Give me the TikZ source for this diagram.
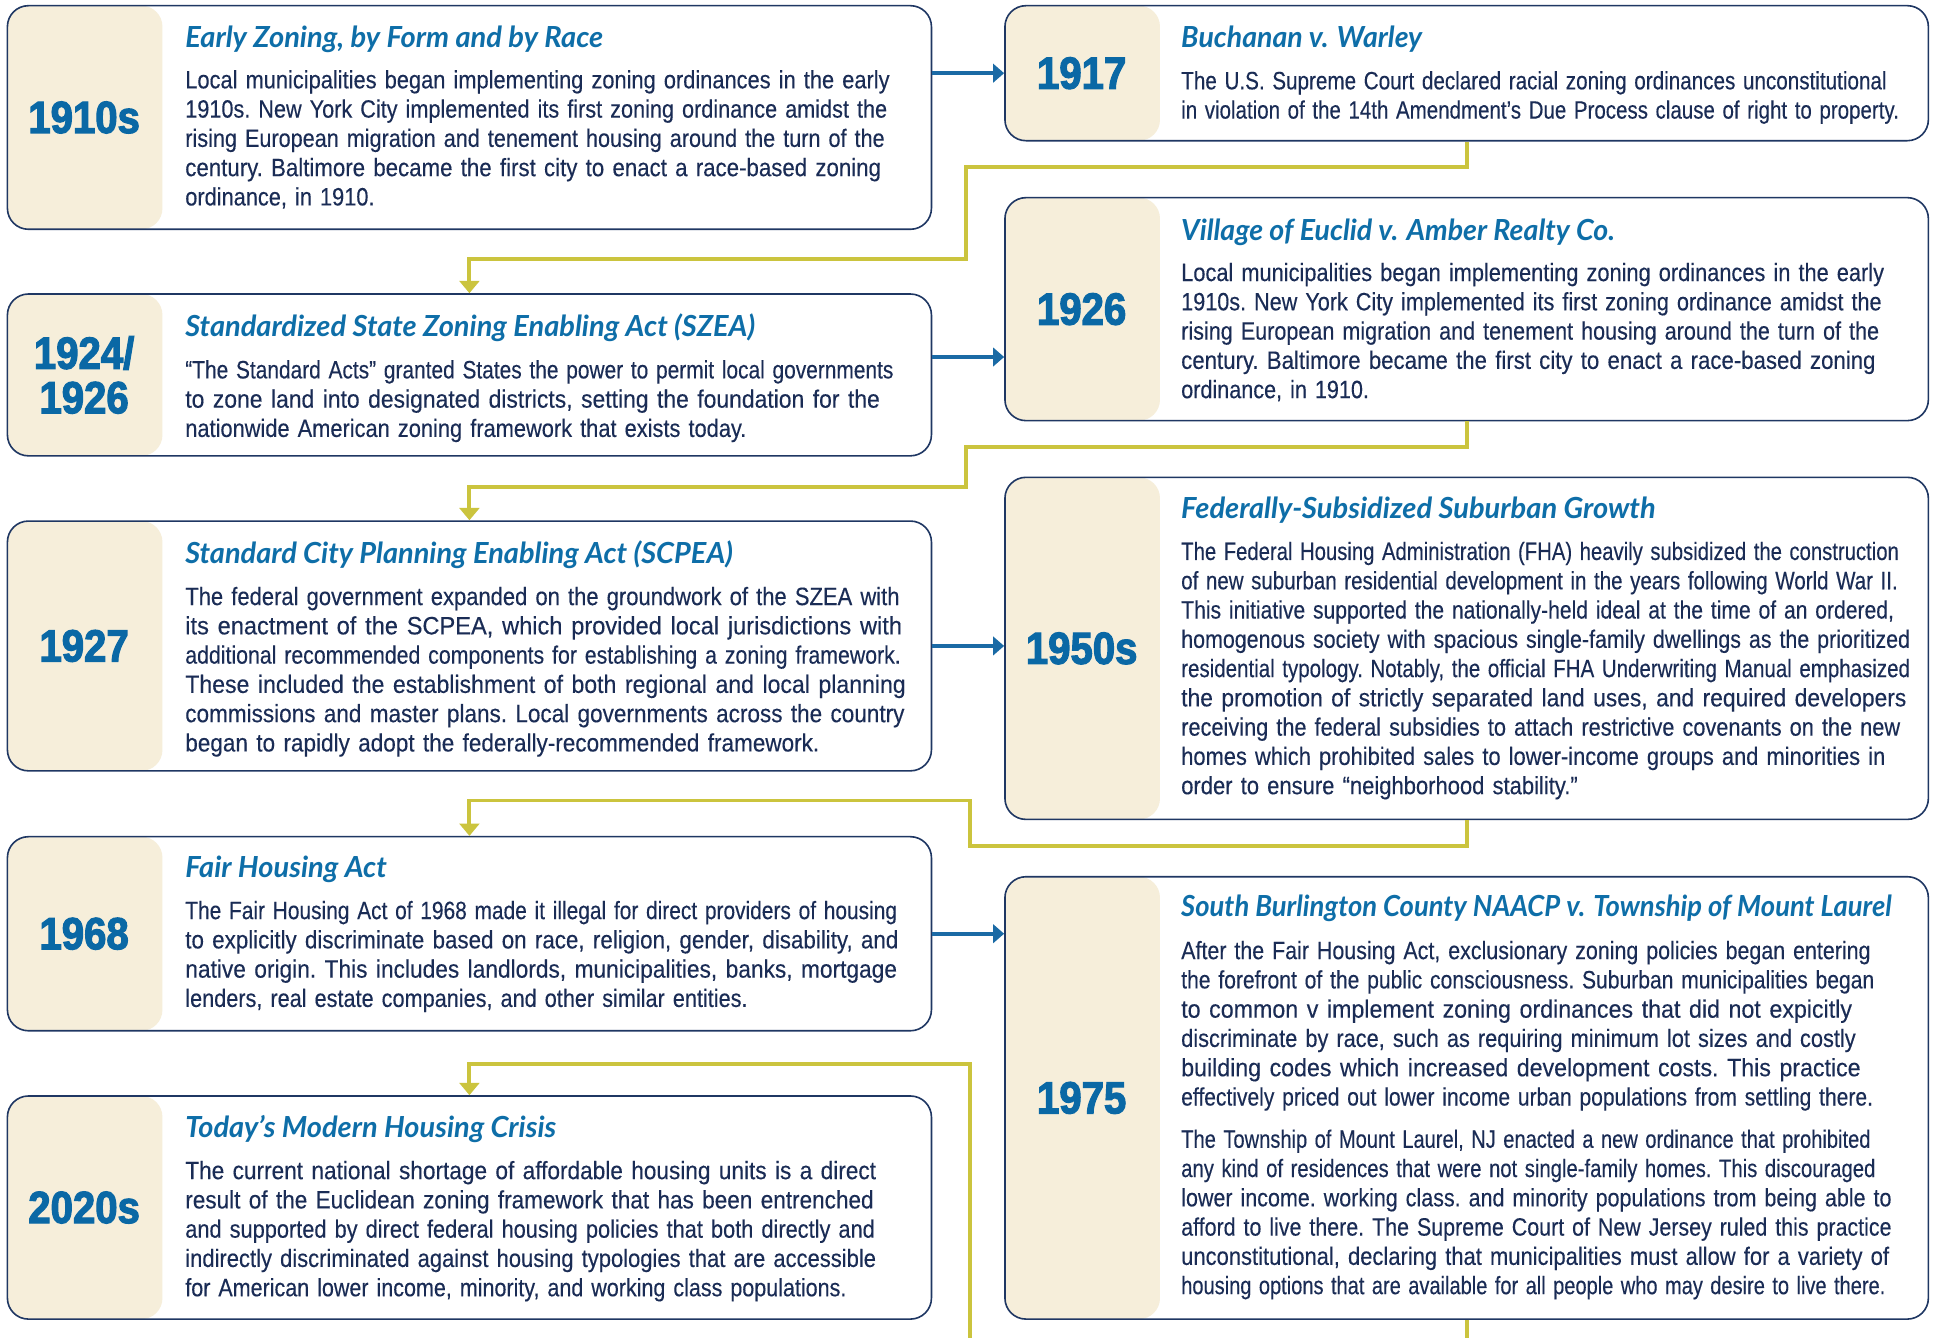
\documentclass[tikz,border=0pt]{standalone}
\usepackage{fontspec}
\usepackage{graphicx}
\setmainfont{Liberation Sans}
\newfontfamily\bodyf{Liberation Sans}[FakeStretch=0.9,FakeBold=0.25]
\newfontfamily\titlef{Lato}
\newfontfamily\yearf{Liberation Sans Bold}[FakeStretch=0.89,FakeBold=2.6]
\usetikzlibrary{arrows.meta,calc}
\definecolor{navy}{HTML}{1F3763}
\definecolor{bodyc}{HTML}{1A2C55}
\definecolor{titlec}{HTML}{0E6EA8}
\definecolor{yearc}{HTML}{0A68A5}
\definecolor{beige}{HTML}{F6EEDA}
\definecolor{yel}{HTML}{CBC43E}
\definecolor{blu}{HTML}{1A6AA5}
\newcommand\fl[2]{\resizebox{#1pt}{\height}{#2}}
\tikzset{
  tbox/.style={draw=navy, line width=1.3pt, rounded corners=17pt, fill=white, inner sep=0pt,
    path picture={\fill[beige] (path picture bounding box.north west) rectangle ([xshift=125.5pt]path picture bounding box.south west);}},
  yeartxt/.style={font=\yearf\fontsize{36.5}{36}\selectfont, text=yearc, inner sep=0pt, align=center},
  ttl/.style={font=\titlef\bfseries\itshape\fontsize{23.5}{26}\selectfont, text=titlec, inner sep=0pt, anchor=base west},
  body/.style={font=\bodyf\frenchspacing\fontsize{20.3}{23.7}\selectfont, text=bodyc, inner sep=0pt, anchor=base west, text width=640pt, align=left},
  barrow/.style={draw=blu, line width=3pt, -{Triangle[width=15pt,length=9pt]}},
  yline/.style={draw=yel, line width=3.2pt},
  yarrow/.style={yline, -{Triangle[width=16pt,length=10pt]}}
}
\begin{document}
\begin{tikzpicture}[x=1pt,y=-1pt]
\useasboundingbox[fill=white] (0,0) rectangle (1568,1083);
% left column boxes
\node[tbox, minimum width=748pt, minimum height=181pt] (A) at (380,95.1) {};
\node[tbox, minimum width=748pt, minimum height=131pt] (B) at (380,303.5) {};
\node[tbox, minimum width=748pt, minimum height=202.2pt] (C) at (380,522.9) {};
\node[tbox, minimum width=748pt, minimum height=157.1pt] (D) at (380,755.85) {};
\node[tbox, minimum width=748pt, minimum height=180.6pt] (E) at (380,977.5) {};
% right column boxes
\node[tbox, minimum width=747.5pt, minimum height=109.3pt] (R1) at (1187.25,59.25) {};
\node[tbox, minimum width=747.5pt, minimum height=180.5pt] (R2) at (1187.25,250.25) {};
\node[tbox, minimum width=747.5pt, minimum height=276.9pt] (R3) at (1187.25,524.85) {};
\node[tbox, minimum width=747.5pt, minimum height=358.1pt] (R4) at (1187.25,888.75) {};

% years
\node[yeartxt] (yA) at ([xshift=62.75pt]A.west) {1910s};
\node[yeartxt] (yB) at ([xshift=62.75pt]B.west) {1924/\\1926};
\node[yeartxt] (yC) at ([xshift=62.75pt]C.west) {1927};
\node[yeartxt] (yD) at ([xshift=62.75pt]D.west) {1968};
\node[yeartxt] (yE) at ([xshift=62.75pt]E.west) {2020s};
\node[yeartxt] (yR1) at ([xshift=62.75pt]R1.west) {1917};
\node[yeartxt] (yR2) at ([xshift=62.75pt]R2.west) {1926};
\node[yeartxt] (yR3) at ([xshift=62.75pt]R3.west) {1950s};
\node[yeartxt] (yR4) at ([xshift=62.75pt]R4.west) {1975};

% titles
\node[ttl] (tA) at (149.8,38.3) {\fl{338.2}{Early Zoning, by Form and by Race}};
\node[ttl] (tB) at (149.8,272) {\fl{461.2}{Standardized State Zoning Enabling Act (SZEA)}};
\node[ttl] (tC) at (149.8,456) {\fl{443.2}{Standard City Planning Enabling Act (SCPEA)}};
\node[ttl] (tD) at (149.8,710) {\fl{163.2}{Fair Housing Act}};
\node[ttl] (tE) at (149.8,920.6) {\fl{300.2}{Today’s Modern Housing Crisis}};
\node[ttl] (tR1) at (956,38.3) {\fl{195}{Buchanan v. Warley}};
\node[ttl] (tR2) at (956,194.3) {\fl{351}{Village of Euclid v. Amber Realty Co.}};
\node[ttl] (tR3) at (956,419.6) {\fl{384}{Federally-Subsidized Suburban Growth}};
\node[ttl] (tR4) at (956,742) {\fl{575}{South Burlington County NAACP v. Township of Mount Laurel}};

% bodies
\node[body] (bA) at (149.8,71.5) {\fl{570.2}{Local municipalities began implementing zoning ordinances in the early}\\
\fl{568.2}{1910s. New York City implemented its first zoning ordinance amidst the}\\
\fl{566.2}{rising European migration and tenement housing around the turn of the}\\
\fl{563.2}{century. Baltimore became the first city to enact a race-based zoning}\\
\fl{153.2}{ordinance, in 1910.}};
\node[body] (bB) at (149.8,306.3) {\fl{573.2}{“The Standard Acts” granted States the power to permit local governments}\\
\fl{562.2}{to zone land into designated districts, setting the foundation for the}\\
\fl{454.2}{nationwide American zoning framework that exists today.}};
\node[body] (bC) at (149.8,489.8) {\fl{578.2}{The federal government expanded on the groundwork of the SZEA with}\\
\fl{580.2}{its enactment of the SCPEA, which provided local jurisdictions with}\\
\fl{579.2}{additional recommended components for establishing a zoning framework.}\\
\fl{583.2}{These included the establishment of both regional and local planning}\\
\fl{582.2}{commissions and master plans. Local governments across the country}\\
\fl{513.2}{began to rapidly adopt the federally-recommended framework.}};
\node[body] (bD) at (149.8,744) {\fl{576.2}{The Fair Housing Act of 1968 made it illegal for direct providers of housing}\\
\fl{577.2}{to explicitly discriminate based on race, religion, gender, disability, and}\\
\fl{576.2}{native origin. This includes landlords, municipalities, banks, mortgage}\\
\fl{455.2}{lenders, real estate companies, and other similar entities.}};
\node[body] (bE) at (149.8,954.5) {\fl{559.2}{The current national shortage of affordable housing units is a direct}\\
\fl{557.2}{result of the Euclidean zoning framework that has been entrenched}\\
\fl{558.2}{and supported by direct federal housing policies that both directly and}\\
\fl{559.2}{indirectly discriminated against housing typologies that are accessible}\\
\fl{535.2}{for American lower income, minority, and working class populations.}};
\node[body] (bR1) at (956,72.3) {\fl{571}{The U.S. Supreme Court declared racial zoning ordinances unconstitutional}\\
\fl{581}{in violation of the 14th Amendment’s Due Process clause of right to property.}};
\node[body] (bR2) at (956,227.5) {\fl{569}{Local municipalities began implementing zoning ordinances in the early}\\
\fl{567}{1910s. New York City implemented its first zoning ordinance amidst the}\\
\fl{565}{rising European migration and tenement housing around the turn of the}\\
\fl{562}{century. Baltimore became the first city to enact a race-based zoning}\\
\fl{152}{ordinance, in 1910.}};
\node[body] (bR3) at (956,453.3) {\fl{581}{The Federal Housing Administration (FHA) heavily subsidized the construction}\\
\fl{580}{of new suburban residential development in the years following World War II.}\\
\fl{577}{This initiative supported the nationally-held ideal at the time of an ordered,}\\
\fl{590}{homogenous society with spacious single-family dwellings as the prioritized}\\
\fl{590}{residential typology. Notably, the official FHA Underwriting Manual emphasized}\\
\fl{587}{the promotion of strictly separated land uses, and required developers}\\
\fl{582}{receiving the federal subsidies to attach restrictive covenants on the new}\\
\fl{570}{homes which prohibited sales to lower-income groups and minorities in}\\
\fl{321}{order to ensure “neighborhood stability.”}};
\node[body] (bR4) at (956,776.4) {\fl{558}{After the Fair Housing Act, exclusionary zoning policies began entering}\\
\fl{561}{the forefront of the public consciousness. Suburban municipalities began}\\
\fl{543}{to common v implement zoning ordinances that did not expicitly}\\
\fl{546}{discriminate by race, such as requiring minimum lot sizes and costly}\\
\fl{550}{building codes which increased development costs. This practice}\\
\fl{560}{effectively priced out lower income urban populations from settling there.}\\[10.5pt]
\fl{558}{The Township of Mount Laurel, NJ enacted a new ordinance that prohibited}\\
\fl{562}{any kind of residences that were not single-family homes. This discouraged}\\
\fl{575}{lower income. working class. and minority populations trom being able to}\\
\fl{575}{afford to live there. The Supreme Court of New Jersey ruled this practice}\\
\fl{573}{unconstitutional, declaring that municipalities must allow for a variety of}\\
\fl{570}{housing options that are available for all people who may desire to live there.}};

% blue arrows
\draw[barrow] (R1.west -| A.east) -- (R1.west);
\coordinate (b2) at ([yshift=14.5pt]B.east);
\draw[barrow] (b2) -- (b2 -| R2.west);
\draw[barrow] (C.east) -- (C.east -| R3.west);
\draw[barrow] (D.east) -- (D.east -| R4.west);

% yellow connectors
\draw[yarrow] (R1.south) -- (R1.south |- 0,135) -| (782,210) -| (B.north);
\draw[yarrow] (R2.south) -- (R2.south |- 0,361.6) -| (782,394) -| (C.north);
\draw[yarrow] (R3.south) -- (R3.south |- 0,685) -| (785.3,648) -| (D.north);
\coordinate (bot1) at (1187.25,1095);
\coordinate (bot2) at (785.3,1095);
\draw[yline] (R4.south) -- (bot1);
\draw[yarrow] (bot2) -- (bot2 |- 0,861.3) -| (E.north);
\end{tikzpicture}
\end{document}
